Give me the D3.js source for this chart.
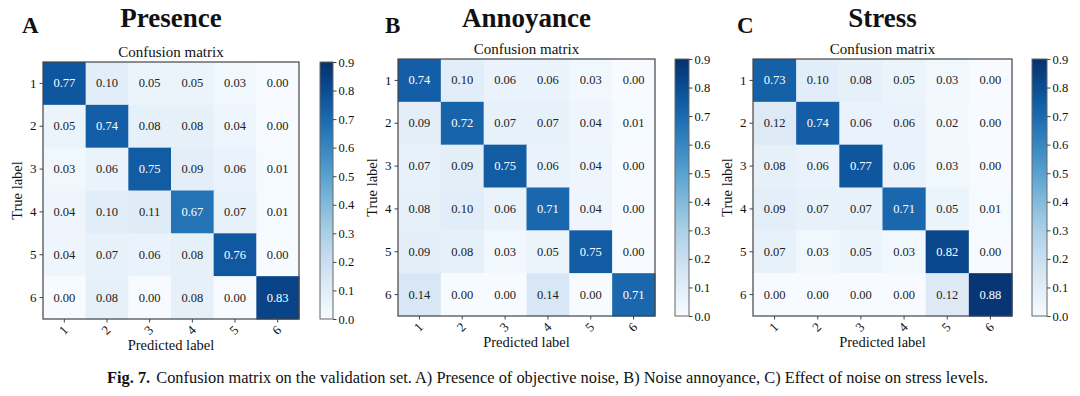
<!DOCTYPE html>
<html>
<head>
<meta charset="utf-8">
<script src="https://cdn.jsdelivr.net/npm/d3@7"></script>
<style>
  html, body { margin: 0; padding: 0; background: #fff; }
  svg { display: block; }
  text { font-family: "Liberation Serif", "Times New Roman", serif; fill: #111; }
</style>
</head>
<body>
<svg id="chart" width="1080" height="396"></svg>
<script>
// ---- data ----
const categories = ["1", "2", "3", "4", "5", "6"];
const panelLetters = ["A", "B", "C"];
const panelTitles = ["Presence", "Annoyance", "Stress"];
const presence = [
  [0.77, 0.10, 0.05, 0.05, 0.03, 0.00],
  [0.05, 0.74, 0.08, 0.08, 0.04, 0.00],
  [0.03, 0.06, 0.75, 0.09, 0.06, 0.01],
  [0.04, 0.10, 0.11, 0.67, 0.07, 0.01],
  [0.04, 0.07, 0.06, 0.08, 0.76, 0.00],
  [0.00, 0.08, 0.00, 0.08, 0.00, 0.83]
];
const annoyance = [
  [0.74, 0.10, 0.06, 0.06, 0.03, 0.00],
  [0.09, 0.72, 0.07, 0.07, 0.04, 0.01],
  [0.07, 0.09, 0.75, 0.06, 0.04, 0.00],
  [0.08, 0.10, 0.06, 0.71, 0.04, 0.00],
  [0.09, 0.08, 0.03, 0.05, 0.75, 0.00],
  [0.14, 0.00, 0.00, 0.14, 0.00, 0.71]
];
const stress = [
  [0.73, 0.10, 0.08, 0.05, 0.03, 0.00],
  [0.12, 0.74, 0.06, 0.06, 0.02, 0.00],
  [0.08, 0.06, 0.77, 0.06, 0.03, 0.00],
  [0.09, 0.07, 0.07, 0.71, 0.05, 0.01],
  [0.07, 0.03, 0.05, 0.03, 0.82, 0.00],
  [0.00, 0.00, 0.00, 0.00, 0.12, 0.88]
];
const colorbarTicks = [0.0, 0.1, 0.2, 0.3, 0.4, 0.5, 0.6, 0.7, 0.8, 0.9];
const colorDomain = [0, 0.9];
const captionBold = "Fig. 7.";
const captionText = "Confusion matrix on the validation set. A) Presence of objective noise, B) Noise annoyance, C) Effect of noise on stress levels.";

// ---- layout ----
const SERIF = '"Liberation Serif", "Times New Roman", serif';
const panels = [
  { data: presence,  mx: 43,  my: 62, mw: 256, mh: 257, cbx: 320,  cbw: 13, lx: 22,  ly: 33 },
  { data: annoyance, mx: 398, my: 59, mw: 257, mh: 257, cbx: 675,  cbw: 14, lx: 385, ly: 33 },
  { data: stress,    mx: 753, my: 59, mw: 259, mh: 257, cbx: 1032, cbw: 15, lx: 737, ly: 33 }
];

const svg = d3.select("#chart");
const color = d3.scaleSequential(d3.interpolateBlues).domain(colorDomain);
const defs = svg.append("defs");
const grad = defs.append("linearGradient").attr("id", "cbgrad")
  .attr("x1", 0).attr("y1", 1).attr("x2", 0).attr("y2", 0);
d3.range(0, 1.0001, 0.05).forEach(t => {
  grad.append("stop").attr("offset", t).attr("stop-color", d3.interpolateBlues(t));
});

panels.forEach((p, i) => {
  const g = svg.append("g");
  const x = d3.scaleBand().domain(categories).range([p.mx, p.mx + p.mw]);
  const y = d3.scaleBand().domain(categories).range([p.my, p.my + p.mh]);
  const maxV = d3.max(p.data.flat());
  const cx = p.mx + p.mw / 2;

  // panel letter & title
  g.append("text").attr("x", p.lx).attr("y", p.ly)
    .style("font-size", "23px").style("font-weight", "bold").text(panelLetters[i]);
  g.append("text").attr("x", cx).attr("y", 27).attr("text-anchor", "middle")
    .style("font-size", "27px").style("font-weight", "bold").text(panelTitles[i]);
  g.append("text").attr("x", cx).attr("y", p.my - 5).attr("text-anchor", "middle")
    .style("font-size", "15px").text("Confusion matrix");

  // cells
  const cells = [];
  p.data.forEach((row, r) => row.forEach((v, c) => cells.push({ r, c, v })));
  g.selectAll("rect.cell").data(cells).join("rect")
    .attr("class", "cell")
    .attr("x", d => x(categories[d.c]))
    .attr("y", d => y(categories[d.r]))
    .attr("width", x.bandwidth() + 0.5)
    .attr("height", y.bandwidth() + 0.5)
    .attr("fill", d => color(d.v));
  g.selectAll("text.val").data(cells).join("text")
    .attr("class", "val")
    .attr("x", d => x(categories[d.c]) + x.bandwidth() / 2)
    .attr("y", d => y(categories[d.r]) + y.bandwidth() / 2 + 4)
    .attr("text-anchor", "middle")
    .style("font-size", "12.5px")
    .style("fill", d => d.v > maxV / 2 ? "#ffffff" : "#222")
    .text(d => d.v.toFixed(2));

  // frame
  g.append("rect").attr("x", p.mx).attr("y", p.my).attr("width", p.mw).attr("height", p.mh)
    .attr("fill", "none").attr("stroke", "#444").attr("stroke-width", 1.2);

  // y axis
  const ya = g.append("g").attr("transform", `translate(${p.mx},0)`)
    .call(d3.axisLeft(y).tickSize(3.5).tickPadding(3));
  ya.attr("font-family", SERIF).attr("font-size", 13);
  ya.select(".domain").remove();
  ya.selectAll("line").attr("stroke", "#444");
  ya.selectAll("text").attr("fill", "#111");

  // x axis
  const xa = g.append("g").attr("transform", `translate(0,${p.my + p.mh})`)
    .call(d3.axisBottom(x).tickSize(3.5).tickPadding(3));
  xa.attr("font-family", SERIF).attr("font-size", 13);
  xa.select(".domain").remove();
  xa.selectAll("line").attr("stroke", "#444");
  xa.selectAll("text")
    .attr("fill", "#111")
    .attr("text-anchor", "middle")
    .attr("dy", null).attr("y", 0)
    .attr("transform", "translate(0,12) rotate(-45)")
    .attr("dominant-baseline", "middle");

  // axis labels
  g.append("text").attr("x", cx).attr("y", p.my + p.mh + 31).attr("text-anchor", "middle")
    .style("font-size", "14.5px").text("Predicted label");
  g.append("text")
    .attr("transform", `translate(${p.mx - 21},${p.my + p.mh / 2}) rotate(-90)`)
    .attr("text-anchor", "middle").style("font-size", "14.5px").text("True label");

  // colorbar
  const cb = d3.scaleLinear().domain(colorDomain).range([p.my + p.mh, p.my]);
  g.append("rect").attr("x", p.cbx).attr("y", p.my).attr("width", p.cbw).attr("height", p.mh)
    .attr("fill", "url(#cbgrad)").attr("stroke", "#666").attr("stroke-width", 1);
  const ca = g.append("g").attr("transform", `translate(${p.cbx + p.cbw},0)`)
    .call(d3.axisRight(cb).tickValues(colorbarTicks).tickFormat(d3.format(".1f")).tickSize(3.5).tickPadding(2));
  ca.attr("font-family", SERIF).attr("font-size", 12.5);
  ca.select(".domain").remove();
  ca.selectAll("line").attr("stroke", "#444");
  ca.selectAll("text").attr("fill", "#111");
});

// caption
const cap = svg.append("text").attr("x", 107).attr("y", 383).style("font-size", "15px");
cap.append("tspan").style("font-weight", "bold").text(captionBold);
cap.append("tspan").attr("dx", 6).text(captionText);
const targetW = 876;
const w = cap.node().getComputedTextLength();
cap.style("font-size", (15 * targetW / w).toFixed(2) + "px");
</script>
</body>
</html>
